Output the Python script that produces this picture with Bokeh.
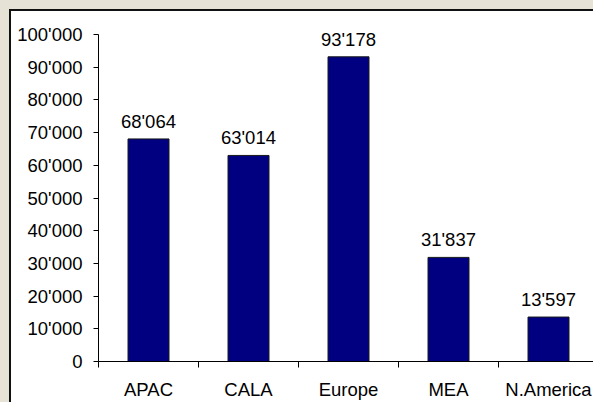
from bokeh.plotting import figure
from bokeh.models import Range1d, FixedTicker, ColumnDataSource, LabelSet
from bokeh.core.properties import value
from bokeh.embed import file_html
from bokeh.resources import INLINE

categories = ["APAC", "CALA", "Europe", "MEA", "N.America"]
values = [68064, 63014, 93178, 31837, 13597]
y_ticks = [0, 10000, 20000, 30000, 40000, 50000, 60000, 70000, 80000, 90000, 100000]
y_max = 100000


def fmt(v):
    return f"{v:,}".replace(",", "'")


xs = [i + 0.5 for i in range(len(categories))]
src = ColumnDataSource(dict(x=xs, v=values, label=[fmt(v) for v in values]))

FONT = "Liberation Sans"
FS = "18.5px"
BEIGE = "#E6E2D5"

# frame: 341 px high, axis max (100'000) sits 14 px below frame top
FRAME_H = 341
AXIS_H = 327

p = figure(width=593, height=402,
           x_range=Range1d(0, 4.95), y_range=Range1d(0, y_max * FRAME_H / AXIS_H),
           output_backend="svg", toolbar_location=None,
           min_border_left=98, min_border_right=0, min_border_top=20, min_border_bottom=41,
           outline_line_color=None, background_fill_color="white", border_fill_color=None)

p.vbar(x="x", top="v", width=0.41, source=src,
       fill_color="#000080", line_color="#1a1a1a", line_width=1)
p.add_layout(LabelSet(x="x", y="v", text="label", source=src, text_align="center",
                      text_baseline="alphabetic", y_offset=11,
                      text_font=value(FONT), text_font_size=FS, text_color="black"))

p.xgrid.visible = False
p.ygrid.visible = False

xa = p.xaxis[0]
xa.ticker = FixedTicker(ticks=xs, minor_ticks=list(range(len(categories) + 1)))
xa.major_label_overrides = {x: c for x, c in zip(xs, categories)}
xa.major_tick_out = 0
xa.major_tick_in = 0
xa.minor_tick_out = 6
xa.minor_tick_in = 0
xa.minor_tick_line_color = "black"
xa.axis_line_color = "black"
xa.major_label_standoff = 11
xa.major_label_text_font = FONT
xa.major_label_text_font_size = FS
xa.major_label_text_color = "black"

ya = p.yaxis[0]
ya.ticker = FixedTicker(ticks=y_ticks)
ya.bounds = (0, y_max)
ya.major_label_overrides = {t: fmt(t) for t in y_ticks}
ya.major_tick_out = 5
ya.major_tick_in = 0
ya.minor_tick_line_color = None
ya.axis_line_color = "black"
ya.major_tick_line_color = "black"
ya.major_label_standoff = 11
ya.major_label_text_font = FONT
ya.major_label_text_font_size = FS
ya.major_label_text_color = "black"

# beige outer frame (top/left) with a dark inner edge, painted as inset shadows
# behind the transparent canvas border
p.styles = {
    "background-color": "#ffffff",
    "box-shadow": f"inset 9px 9px 0 0 {BEIGE}, inset 11px 11px 0 0 #111111",
}

open("out.html", "w").write(file_html(p, INLINE))
